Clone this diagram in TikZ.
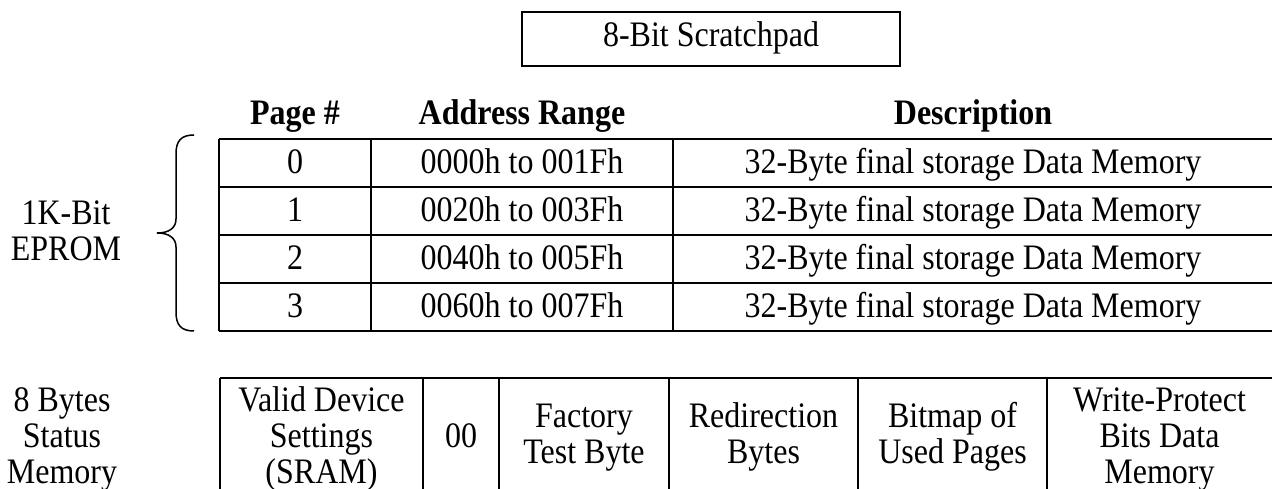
\documentclass[tikz,border=0pt]{standalone}
\usepackage{fontspec}
\usepackage{graphicx}
\setmainfont{Liberation Serif}
\newcommand{\vsx}[1]{\scalebox{1}[1.12]{\begin{tabular}{@{}c@{}}#1\end{tabular}}}
\begin{document}
\begin{tikzpicture}[x=1pt,y=-1pt,
  rule/.style={line width=1.7pt},
  txt/.style={font=\fontsize{32}{32}\selectfont, inner sep=0pt, anchor=center},
  hdr/.style={font=\fontsize{32}{32}\selectfont\bfseries, inner sep=0pt, anchor=center}]
\useasboundingbox (0,0) rectangle (1272,489);

% scratchpad box
\draw[rule] (522,12) rectangle (900,66);
\node[txt] (scratch) at (711,39) {\vsx{8-Bit Scratchpad}};

% headers
\node[hdr] (hpage) at (295,117) {\vsx{Page \#}};
\node[hdr] (haddr) at (522,117) {\vsx{Address Range}};
\node[hdr] (hdesc) at (973,117) {\vsx{Description}};

% upper table grid
\foreach \yy in {139,187,235,283,331} \draw[rule] (219,\yy) -- (1272,\yy);
\foreach \xx in {219,371,673} \draw[rule] (\xx,139) -- (\xx,331);

% upper table cells
\foreach \p/\a/\yc in {0/0000h to 001Fh/166, 1/0020h to 003Fh/214, 2/0040h to 005Fh/262, 3/0060h to 007Fh/310}{
  \node[txt] (p\p) at (295,\yc) {\vsx{\p}};
  \node[txt] (a\p) at (522,\yc) {\vsx{\a}};
  \node[txt] (d\p) at (973,\yc) {\vsx{32-Byte final storage Data Memory}};
}

% brace
\draw[line width=1.5pt] (194,135) .. controls (181,135) and (176,141) .. (176,154)
  -- (176,219) .. controls (176,228) and (169,233) .. (157,233)
  .. controls (169,233) and (176,238) .. (176,247)
  -- (176,312) .. controls (176,325) and (181,331) .. (194,331);

\node[txt] (eprom) at (66,235) {\vsx{1K-Bit\\EPROM}};

% bottom table
\draw[rule] (220,378) -- (1272,378);
\foreach \xx in {220,423,499,669,858,1047} \draw[rule] (\xx,378) -- (\xx,489);

\node[txt] (status) at (62,440) {\vsx{8 Bytes\\Status\\Memory}};
\node[txt] (valid) at (321.5,440) {\vsx{Valid Device\\Settings\\(SRAM)}};
\node[txt] (zero) at (461,440) {\vsx{00}};
\node[txt] (factory) at (584,438) {\vsx{Factory\\Test Byte}};
\node[txt] (redir) at (763.5,438) {\vsx{Redirection\\Bytes}};
\node[txt] (bitmap) at (952.5,438) {\vsx{Bitmap of\\Used Pages}};
\node[txt] (wp) at (1159.5,440) {\vsx{Write-Protect\\Bits Data\\Memory}};
\end{tikzpicture}
\end{document}
